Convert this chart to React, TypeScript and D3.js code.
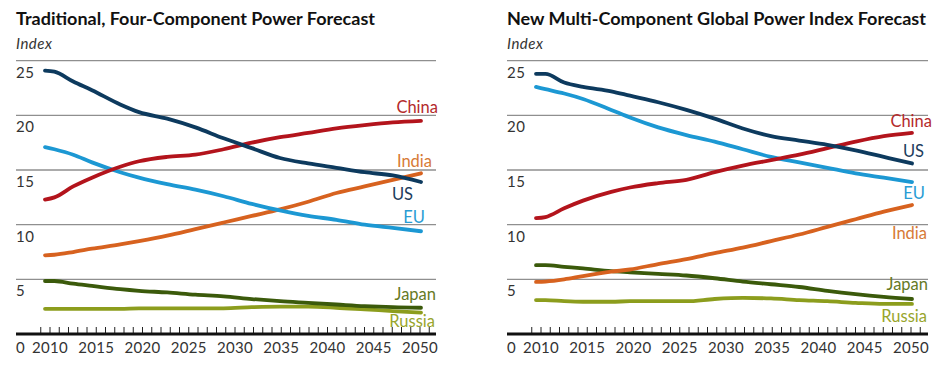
import { useEffect, useRef } from "react";
import * as d3 from "d3";

// years sampled from the chart
const years = [2010, 2011, 2013, 2015, 2018, 2020, 2023, 2026, 2029, 2032, 2035, 2038, 2041, 2044, 2047, 2050];

// Traditional, four-component forecast
const tradUS = [24.1, 24.0, 23.1, 22.3, 21.0, 20.3, 19.7, 18.9, 17.9, 17.0, 16.1, 15.6, 15.2, 14.8, 14.5, 13.9];
const tradChina = [12.3, 12.5, 13.5, 14.3, 15.3, 15.8, 16.2, 16.4, 16.9, 17.5, 18.0, 18.4, 18.8, 19.1, 19.35, 19.5];
const tradEU = [17.1, 16.9, 16.4, 15.7, 14.8, 14.3, 13.7, 13.2, 12.6, 11.9, 11.3, 10.8, 10.45, 10.0, 9.7, 9.4];
const tradIndia = [7.2, 7.25, 7.5, 7.8, 8.2, 8.5, 9.0, 9.6, 10.2, 10.8, 11.4, 12.1, 12.9, 13.5, 14.1, 14.7];
const tradJapan = [4.85, 4.85, 4.6, 4.4, 4.1, 3.95, 3.8, 3.6, 3.45, 3.2, 3.0, 2.85, 2.7, 2.55, 2.45, 2.4];
const tradRussia = [2.3, 2.3, 2.3, 2.3, 2.3, 2.35, 2.35, 2.35, 2.35, 2.45, 2.5, 2.5, 2.4, 2.25, 2.1, 1.95];

// New multi-component global power index forecast
const newUS = [23.8, 23.8, 23.0, 22.6, 22.2, 21.8, 21.2, 20.5, 19.7, 18.8, 18.1, 17.7, 17.3, 16.8, 16.2, 15.6];
const newChina = [10.6, 10.7, 11.5, 12.2, 13.0, 13.4, 13.8, 14.1, 14.8, 15.4, 15.9, 16.4, 17.0, 17.6, 18.1, 18.4];
const newEU = [22.6, 22.4, 22.0, 21.5, 20.5, 19.8, 18.9, 18.2, 17.6, 16.9, 16.2, 15.7, 15.2, 14.7, 14.3, 13.9];
const newIndia = [4.76, 4.8, 5.0, 5.3, 5.7, 5.9, 6.4, 6.85, 7.4, 7.9, 8.5, 9.1, 9.8, 10.5, 11.2, 11.8];
const newJapan = [6.3, 6.3, 6.15, 6.0, 5.75, 5.65, 5.5, 5.35, 5.1, 4.8, 4.55, 4.3, 3.95, 3.65, 3.4, 3.2];
const newRussia = [3.1, 3.1, 3.0, 2.95, 2.95, 3.0, 3.0, 3.0, 3.2, 3.3, 3.25, 3.1, 3.0, 2.85, 2.75, 2.75];

const yTicks = [5, 10, 15, 20, 25];
const yearLabels = [2010, 2015, 2020, 2025, 2030, 2035, 2040, 2045, 2050];

const colors: Record<string, { line: string; text: string }> = {
  US: { line: "#0d3a5e", text: "#1d3c5c" },
  China: { line: "#b3141c", text: "#b42a2c" },
  EU: { line: "#1c98d3", text: "#2a9cd4" },
  India: { line: "#d7621f", text: "#d77a36" },
  Japan: { line: "#3b5a0b", text: "#667a1f" },
  Russia: { line: "#8c9d1d", text: "#98a52c" },
};

interface Panel {
  title: string;
  titleWidth: number;
  left: number; // gridline start
  right: number; // gridline end
  x0: number; // position of 2010 for lines
  x1: number; // position of 2050 for lines
  series: { name: string; values: number[]; dx: number; dy: number }[];
}

const panels: Panel[] = [
  {
    title: "Traditional, Four-Component Power Forecast",
    titleWidth: 359,
    left: 16,
    right: 436,
    x0: 45,
    x1: 421,
    series: [
      { name: "Russia", values: tradRussia, dx: 14, dy: 14 },
      { name: "Japan", values: tradJapan, dx: 15, dy: -8 },
      { name: "India", values: tradIndia, dx: 11, dy: -6 },
      { name: "EU", values: tradEU, dx: 4, dy: -8 },
      { name: "China", values: tradChina, dx: 17, dy: -8 },
      { name: "US", values: tradUS, dx: -8, dy: 18 },
    ],
  },
  {
    title: "New Multi-Component Global Power Index Forecast",
    titleWidth: 419,
    left: 507,
    right: 928,
    x0: 536,
    x1: 912,
    series: [
      { name: "Russia", values: newRussia, dx: 15, dy: 18 },
      { name: "Japan", values: newJapan, dx: 16, dy: -9 },
      { name: "India", values: newIndia, dx: 15, dy: 34 },
      { name: "EU", values: newEU, dx: 13, dy: 17 },
      { name: "China", values: newChina, dx: 20, dy: -6 },
      { name: "US", values: newUS, dx: 12, dy: -6.5 },
    ],
  },
];

const FONT = "Lato, 'Open Sans', sans-serif";

function drawPanel(svg: d3.Selection<SVGSVGElement, unknown, null, undefined>, p: Panel) {
  const x = d3.scaleLinear().domain([2010, 2050]).range([p.x0, p.x1]);
  // the axis ticks/labels sit slightly offset from the data lines in the original
  const xa = d3.scaleLinear().domain([2010, 2050]).range([p.x0 + 5, p.x1 - 1]);
  const y = d3.scaleLinear().domain([0, 25]).range([334, 60.7]);
  const g = svg.append("g");

  g.append("text")
    .attr("x", p.left)
    .attr("y", 25)
    .attr("font-family", FONT)
    .attr("font-weight", 700)
    .attr("font-size", 16.5)
    .attr("textLength", p.titleWidth)
    .attr("lengthAdjust", "spacingAndGlyphs")
    .attr("fill", "#111")
    .text(p.title);

  g.append("text")
    .attr("x", p.left)
    .attr("y", 49)
    .attr("font-family", FONT)
    .attr("font-style", "italic")
    .attr("font-size", 15)
    .attr("letter-spacing", 0.5)
    .attr("fill", "#333")
    .text("Index");

  // gridlines
  g.append("g")
    .selectAll("line")
    .data(yTicks)
    .join("line")
    .attr("x1", p.left)
    .attr("x2", p.right)
    .attr("y1", (d) => y(d))
    .attr("y2", (d) => y(d))
    .attr("stroke", "#8f8f8f")
    .attr("stroke-width", 1.3);

  // y labels hang under gridlines
  g.append("g")
    .selectAll("text")
    .data(yTicks)
    .join("text")
    .attr("x", p.left)
    .attr("y", (d) => y(d) + 17)
    .attr("font-family", FONT)
    .attr("font-size", 15)
    .attr("letter-spacing", 0.5)
    .attr("fill", "#333")
    .text((d) => d);

  // x axis
  const axis = g.append("g").attr("transform", `translate(0,334)`);
  axis
    .selectAll("line.tick")
    .data(d3.range(2009, 2052))
    .join("line")
    .attr("class", "tick")
    .attr("x1", (d) => xa(d))
    .attr("x2", (d) => xa(d))
    .attr("y1", -7)
    .attr("y2", 0)
    .attr("stroke", "#222")
    .attr("stroke-width", 1);
  axis
    .append("line")
    .attr("x1", p.left)
    .attr("x2", p.right)
    .attr("stroke", "#111")
    .attr("stroke-width", 3);
  axis
    .selectAll("text.year")
    .data(yearLabels)
    .join("text")
    .attr("class", "year")
    .attr("x", (d) => xa(d))
    .attr("y", 19)
    .attr("text-anchor", "middle")
    .attr("font-family", FONT)
    .attr("font-size", 15)
    .attr("letter-spacing", 0.3)
    .attr("fill", "#333")
    .text((d) => d);
  axis
    .append("text")
    .attr("x", p.left)
    .attr("y", 19)
    .attr("font-family", FONT)
    .attr("font-size", 15)
    .attr("fill", "#333")
    .text("0");

  const line = d3
    .line<number>()
    .x((_, i) => x(years[i]))
    .y((d) => y(d))
    .curve(d3.curveMonotoneX);

  p.series.forEach((s) => {
    g.append("path")
      .attr("d", line(s.values))
      .attr("fill", "none")
      .attr("stroke", colors[s.name].line)
      .attr("stroke-width", 3.8)
      .attr("stroke-linecap", "round");
    const last = s.values[s.values.length - 1];
    g.append("text")
      .attr("x", x(2050) + s.dx)
      .attr("y", y(last) + s.dy)
      .attr("text-anchor", "end")
      .attr("font-family", FONT)
      .attr("font-size", 16.5)
      .attr("fill", colors[s.name].text)
      .text(s.name);
  });
}

export default function App() {
  const ref = useRef<SVGSVGElement>(null);

  useEffect(() => {
    const svg = d3.select(ref.current!);
    svg.selectAll("*").remove();
    svg.append("rect").attr("width", "100%").attr("height", "100%").attr("fill", "white");
    panels.forEach((p) => drawPanel(svg, p));
  }, []);

  return (
    <svg
      ref={ref}
      width={945}
      height={370}
      style={{ position: "absolute", left: 0, top: 0 }}
    />
  );
}
